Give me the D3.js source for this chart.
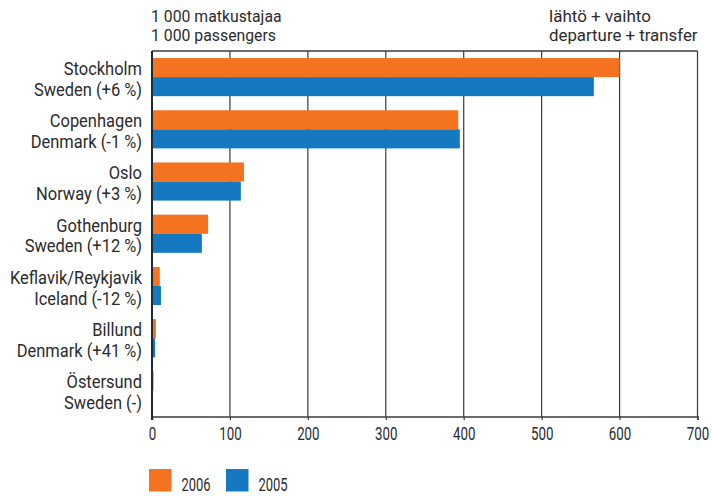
<!DOCTYPE html>
<html><head><meta charset="utf-8">
<script src="https://cdn.jsdelivr.net/npm/d3@7"></script>
<style>
body{margin:0;background:#fff;}
text{font-family:"Roboto","Liberation Sans",sans-serif;fill:#2b2b2b;}
</style></head><body>
<svg id="c" width="712" height="497"></svg>
<script>
const cities = ["Stockholm","Copenhagen","Oslo","Gothenburg","Keflavik/Reykjavik","Billund","Östersund"];
const countries = ["Sweden (+6 %)","Denmark (-1 %)","Norway (+3 %)","Sweden (+12 %)","Iceland (-12 %)","Denmark (+41 %)","Sweden (-)"];
const values2006 = [600, 393, 118, 72, 10, 5, 2];
const values2005 = [567, 395, 114, 64, 11.5, 4, 0];
const seriesNames = ["2006","2005"];
const colors = ["#F47321","#1479C0"];
const xTicks = [0,100,200,300,400,500,600,700];

const svg = d3.select("#c");
const pL = 152, pR = 697.5, pT = 51, pB = 416.5;
const x = d3.scaleLinear().domain([0,700]).range([pL,pR]);
const y = d3.scaleBand().domain(cities).range([pT,pB]).paddingInner(0.27).paddingOuter(0.135);

function txt(g, s, tx, ty, size, sx, anchor){
  return g.append("text").attr("transform",`translate(${tx},${ty}) scale(${sx},1)`)
    .attr("text-anchor",anchor||"start").attr("font-size",size+"px").text(s);
}

// grid
svg.append("g").selectAll("line").data(xTicks.slice(1)).join("line")
  .attr("x1",d=>x(d)).attr("x2",d=>x(d)).attr("y1",pT).attr("y2",pB)
  .attr("stroke","#3a3a3a").attr("stroke-width",1.2);
// top border
svg.append("line").attr("x1",pL).attr("x2",pR).attr("y1",pT).attr("y2",pT)
  .attr("stroke","#3a3a3a").attr("stroke-width",1.5);

// bars
const bh = y.bandwidth()/2;
[values2006, values2005].forEach((vals,si)=>{
  svg.append("g").selectAll("rect").data(cities).join("rect")
    .attr("x",x(0)).attr("y",(d)=>y(d)+si*bh)
    .attr("width",(d,i)=>x(vals[i])-x(0)).attr("height",bh)
    .attr("fill",colors[si]);
});

// bottom axis
const ax = svg.append("g").attr("transform",`translate(0,${pB})`)
  .call(d3.axisBottom(x).tickValues(xTicks).tickSize(3.5).tickFormat(d3.format("d")));
ax.select(".domain").attr("stroke","#3a3a3a").attr("stroke-width",1.5);
ax.selectAll(".tick line").attr("stroke","#3a3a3a").attr("stroke-width",1.2);
ax.selectAll(".tick text").attr("y",0).attr("dy",null)
  .attr("transform","translate(0,23) scale(0.74,1)")
  .attr("font-size","18px").attr("fill","#2b2b2b")
  .style("font-family",'"Roboto",sans-serif');

// left axis line
svg.append("line").attr("x1",pL).attr("x2",pL).attr("y1",pT).attr("y2",pB+3.5)
  .attr("stroke","#1f2a38").attr("stroke-width",2);

// category labels
const lab = svg.append("g");
cities.forEach((c,i)=>{
  const yc = y(c);
  txt(lab, c, 142, yc+17, 18.5, 0.89, "end");
  txt(lab, countries[i], 142, yc+37.6, 18.5, 0.89, "end");
});

// header texts
const hd = svg.append("g");
txt(hd, "1 000 matkustajaa", 151, 22, 17, 0.93);
txt(hd, "1 000 passengers", 151, 40.5, 17, 0.93);
txt(hd, "lähtö + vaihto", 549, 22, 17, 1.0);
txt(hd, "departure + transfer", 549, 40.5, 17, 0.99);

// legend
const lg = svg.append("g");
seriesNames.forEach((s,i)=>{
  const lx = 149 + i*77;
  lg.append("rect").attr("x",lx).attr("y",469).attr("width",22.5).attr("height",22.5).attr("fill",colors[i]);
  txt(lg, s, lx+32.5, 491, 18, 0.72);
});
</script></body></html>
